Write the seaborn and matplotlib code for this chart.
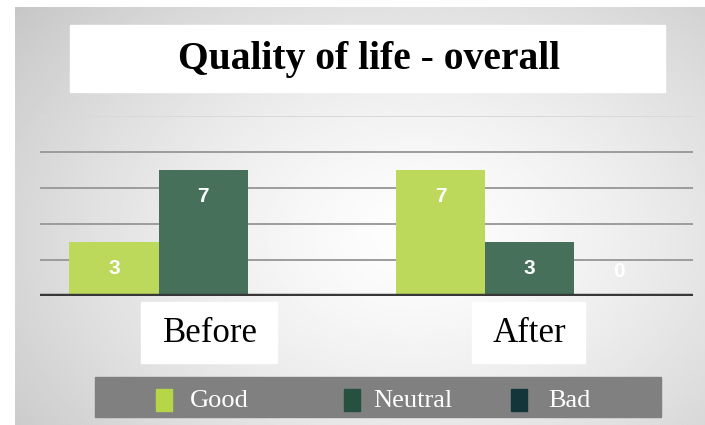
import numpy as np
import pandas as pd
import matplotlib.pyplot as plt
import seaborn as sns
from matplotlib.patches import Rectangle

# ---- data ----
periods = ["Before", "After"]
ratings = ["Good", "Neutral", "Bad"]
good = [3, 7]
neutral = [7, 3]
bad = [np.nan, 0]   # no "Bad" bar/label shown for Before

bar_colors = {"Good": "#bcd95b", "Neutral": "#46705a", "Bad": "#16373b"}
legend_colors = {"Good": "#b6d648", "Neutral": "#26503f", "Bad": "#14363a"}

df = pd.DataFrame({
    "period": periods * 3,
    "rating": [r for r in ratings for _ in periods],
    "count": good + neutral + bad,
})

W, H = 705, 425
sns.set_theme(style="white")
fig = plt.figure(figsize=(W / 100, H / 100), dpi=100)
fig.patch.set_facecolor("white")


def box(x0, y0, x1, y1):
    # pixel box (top-left origin) -> figure fraction rect
    return [x0 / W, 1 - y1 / H, (x1 - x0) / W, (y1 - y0) / H]


# ---- gray radial background ----
bg = fig.add_axes(box(15, 7, 705, 425))
gx, gy = np.meshgrid(np.linspace(0, 1, 300), np.linspace(0, 1, 200))
r = np.sqrt(((gx - 0.58) / 0.8) ** 2 + ((gy - 0.55) / 0.95) ** 2)
shade = np.clip(0.995 - 0.24 * r ** 1.4, 0.75, 0.995)
bg.imshow(shade, cmap="gray", vmin=0, vmax=1, aspect="auto", extent=[0, 1, 0, 1])
bg.set_axis_off()

# ---- bars ----
ax = fig.add_axes(box(40, 116, 693, 296))
sns.barplot(data=df, x="period", y="count", hue="rating", order=periods,
            hue_order=ratings, palette=bar_colors, width=0.82, saturation=1,
            linewidth=0, legend=False, ax=ax)
ax.set_facecolor("none")
ax.set_xlim(-0.5, 1.5)
ax.set_ylim(0, 10)
for v in [2, 4, 6, 8]:
    ax.axhline(v, color="#9c9c9c", lw=1.4, zorder=0)
ax.axhline(10, color="#d9d9d9", lw=1.4, zorder=0)
ax.axhline(0, color="#383838", lw=3.2, zorder=5)
for s in ax.spines.values():
    s.set_visible(False)
ax.set_xticks([])
ax.set_yticks([])
ax.set_xlabel("")
ax.set_ylabel("")

for cont in ax.containers:
    for rect in cont:
        v = rect.get_height()
        if np.isnan(v):
            continue
        y = v - 1.5 if v > 0 else 1.35
        ax.text(rect.get_x() + rect.get_width() / 2, y, f"{int(v)}",
                ha="center", va="center", color="white", fontsize=15,
                fontweight="bold", family="Liberation Sans", zorder=6)

# ---- title box ----
t = box(70, 25, 665, 92)
fig.add_artist(Rectangle(t[:2], *t[2:], transform=fig.transFigure,
                         color="white", zorder=3))
fig.text(369 / W, 1 - 60 / H, "Quality of life - overall", ha="center",
         va="center", fontsize=28.5, fontweight="bold", family="Liberation Serif",
         color="black", zorder=4)

# ---- category boxes ----
for (x0, x1), label in zip([(141, 277), (472, 585)], periods):
    b = box(x0, 302, x1, 363)
    fig.add_artist(Rectangle(b[:2], *b[2:], transform=fig.transFigure,
                             color="white", zorder=3))
    fig.text((x0 + x1) / 2 / W + 1 / W, 1 - 334 / H, label, ha="center", va="center",
             fontsize=25, family="Liberation Serif", color="black", zorder=4)

# ---- legend strip ----
b = box(95, 377, 661, 417)
fig.add_artist(Rectangle(b[:2], *b[2:], transform=fig.transFigure,
                         color="#808080", zorder=3))
for mx, tx, name in zip([156, 344, 511], [190, 373, 548], ratings):
    m = box(mx, 389, mx + 16, 411)
    fig.add_artist(Rectangle(m[:2], *m[2:], transform=fig.transFigure,
                             color=legend_colors[name], zorder=4))
    fig.text(tx / W, 1 - 401 / H, name, ha="left", va="center", fontsize=19,
             family="Liberation Serif", color="white", zorder=4)

fig.savefig("out.png", dpi=100)
